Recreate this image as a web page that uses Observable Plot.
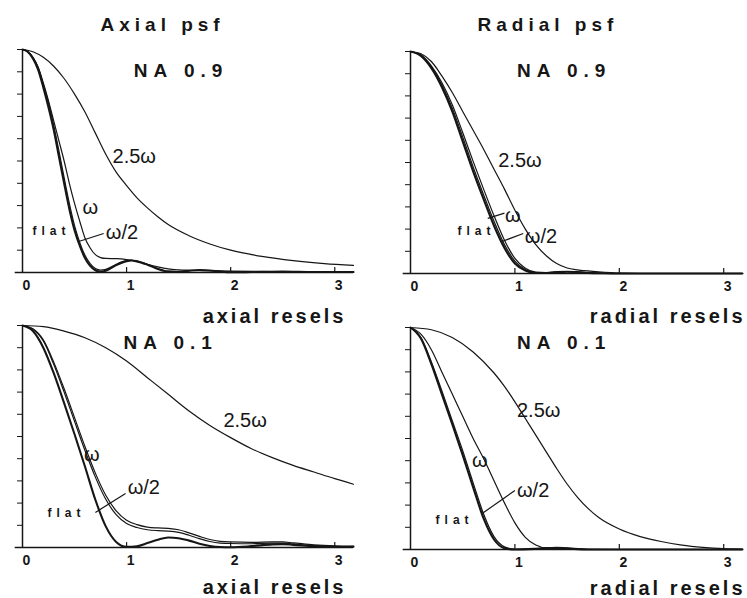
<!DOCTYPE html>
<html><head><meta charset="utf-8">
<script src="https://cdn.jsdelivr.net/npm/d3@7"></script>
<script src="https://cdn.jsdelivr.net/npm/@observablehq/plot@0.6"></script>
<style>
html,body{margin:0;padding:0;background:#fff;}
#wrap{position:relative;width:747px;height:598px;overflow:hidden;background:#fff;}
#wrap > svg{position:absolute;}
g[aria-description="title"] text{letter-spacing:5px;}
g[aria-description="na"] text{letter-spacing:6px;}
g[aria-description="axis label"] text{letter-spacing:3px;}
g[aria-description="flat label"] text{letter-spacing:5px;}
</style></head>
<body><div id="wrap"></div>
<script>
// ---------- data ----------
const xTicks = [0, 1, 2, 3];
const yTicks = [0, 0.1, 0.2, 0.3, 0.4, 0.5, 0.6, 0.7, 0.8, 0.9, 1];
const seriesNames = ["flat", "ω/2", "ω", "2.5ω"];

// Axial psf, NA 0.9
const axial09Flat = [[0,1],[0.05,0.99],[0.1,0.96],[0.15,0.91],[0.2,0.83],[0.25,0.74],[0.3,0.64],[0.35,0.52],[0.4,0.4],[0.45,0.285],[0.5,0.19],[0.55,0.12],[0.6,0.065],[0.65,0.03],[0.7,0.01],[0.75,0.003],[0.8,0.008],[0.9,0.033],[1.0,0.051],[1.05,0.054],[1.1,0.05],[1.2,0.035],[1.3,0.016],[1.4,0.004],[1.5,0.003],[1.6,0.008],[1.7,0.011],[1.8,0.009],[1.9,0.004],[2.0,0.001],[2.2,0.002],[2.5,0.004],[2.8,0.002],[3.18,0.002]];
const axial09Half = [[0,1],[0.05,0.99],[0.1,0.965],[0.15,0.92],[0.2,0.845],[0.25,0.76],[0.3,0.66],[0.35,0.545],[0.4,0.425],[0.45,0.31],[0.5,0.21],[0.55,0.135],[0.6,0.077],[0.65,0.04],[0.7,0.018],[0.75,0.011],[0.8,0.014],[0.9,0.037],[1.0,0.053],[1.05,0.055],[1.1,0.051],[1.2,0.037],[1.3,0.018],[1.4,0.006],[1.5,0.004],[1.6,0.008],[1.7,0.011],[1.8,0.009],[1.9,0.005],[2.0,0.002],[2.5,0.004],[3.18,0.002]];
const axial09W = [[0,1],[0.05,0.99],[0.1,0.965],[0.15,0.92],[0.2,0.85],[0.25,0.77],[0.3,0.68],[0.35,0.59],[0.4,0.5],[0.45,0.4],[0.5,0.31],[0.55,0.23],[0.6,0.155],[0.65,0.11],[0.7,0.08],[0.75,0.067],[0.8,0.063],[0.9,0.062],[1.0,0.058],[1.1,0.05],[1.2,0.037],[1.3,0.025],[1.4,0.016],[1.5,0.012],[1.6,0.01],[1.8,0.008],[2.0,0.006],[2.5,0.004],[3.18,0.003]];
const axial09W25 = [[0,1],[0.1,0.99],[0.2,0.965],[0.3,0.925],[0.4,0.87],[0.5,0.8],[0.6,0.72],[0.7,0.625],[0.8,0.53],[0.9,0.45],[1.0,0.39],[1.1,0.335],[1.2,0.29],[1.3,0.25],[1.4,0.215],[1.6,0.165],[1.8,0.128],[2.0,0.1],[2.3,0.072],[2.6,0.053],[2.9,0.04],[3.18,0.032]];

// Radial psf, NA 0.9
const radial09Flat = [[0,1],[0.1,0.98],[0.2,0.925],[0.3,0.84],[0.4,0.73],[0.5,0.595],[0.6,0.46],[0.7,0.335],[0.8,0.215],[0.9,0.115],[1.0,0.045],[1.1,0.013],[1.2,0.002],[1.3,0.002],[1.4,0.006],[1.5,0.008],[1.6,0.006],[1.7,0.003],[1.85,0.001],[2.0,0],[3.18,0]];
const radial09Half = [[0,1],[0.1,0.982],[0.2,0.93],[0.3,0.85],[0.4,0.745],[0.5,0.615],[0.6,0.48],[0.7,0.355],[0.8,0.235],[0.9,0.13],[1.0,0.056],[1.1,0.018],[1.2,0.004],[1.3,0.003],[1.4,0.006],[1.5,0.008],[1.6,0.006],[1.7,0.003],[2.0,0],[3.18,0]];
const radial09W = [[0,1],[0.1,0.985],[0.2,0.935],[0.3,0.86],[0.4,0.76],[0.5,0.635],[0.6,0.505],[0.7,0.38],[0.8,0.26],[0.9,0.15],[1.0,0.068],[1.1,0.024],[1.2,0.006],[1.3,0.004],[1.4,0.007],[1.5,0.009],[1.6,0.007],[1.7,0.004],[2.0,0],[3.18,0]];
const radial09W25 = [[0,1],[0.1,0.99],[0.2,0.955],[0.3,0.89],[0.4,0.815],[0.5,0.73],[0.6,0.645],[0.7,0.56],[0.8,0.47],[0.9,0.38],[1.0,0.285],[1.1,0.2],[1.2,0.13],[1.3,0.08],[1.4,0.045],[1.5,0.025],[1.6,0.016],[1.8,0.008],[2.0,0.002],[2.2,0],[3.18,0]];

// Axial psf, NA 0.1
const axial01Flat = [[0,1],[0.1,0.975],[0.2,0.9],[0.3,0.785],[0.4,0.65],[0.5,0.51],[0.6,0.365],[0.7,0.215],[0.8,0.095],[0.9,0.025],[1.0,0.003],[1.1,0.006],[1.2,0.02],[1.3,0.035],[1.4,0.045],[1.5,0.042],[1.6,0.031],[1.7,0.017],[1.8,0.007],[1.9,0.002],[2.0,0.001],[2.2,0.006],[2.4,0.014],[2.5,0.015],[2.6,0.012],[2.8,0.005],[3.0,0.002],[3.18,0.004]];
const axial01Half = [[0,1],[0.1,0.983],[0.2,0.93],[0.3,0.825],[0.4,0.7],[0.5,0.568],[0.6,0.437],[0.7,0.317],[0.8,0.217],[0.9,0.148],[1.0,0.108],[1.1,0.09],[1.2,0.08],[1.3,0.076],[1.4,0.074],[1.5,0.068],[1.6,0.055],[1.7,0.04],[1.8,0.027],[1.9,0.02],[2.0,0.018],[2.2,0.017],[2.4,0.02],[2.5,0.02],[2.6,0.016],[2.8,0.009],[3.0,0.005],[3.18,0.004]];
const axial01W = [[0,1],[0.1,0.985],[0.2,0.935],[0.3,0.835],[0.4,0.715],[0.5,0.585],[0.6,0.455],[0.7,0.335],[0.8,0.235],[0.9,0.165],[1.0,0.123],[1.1,0.103],[1.2,0.092],[1.3,0.088],[1.4,0.086],[1.5,0.08],[1.6,0.066],[1.7,0.05],[1.8,0.036],[1.9,0.028],[2.0,0.025],[2.2,0.023],[2.4,0.025],[2.5,0.025],[2.6,0.021],[2.8,0.012],[3.0,0.007],[3.18,0.005]];
const axial01W25 = [[0,1],[0.2,0.995],[0.4,0.975],[0.6,0.945],[0.8,0.9],[1.0,0.84],[1.2,0.765],[1.4,0.69],[1.6,0.615],[1.8,0.55],[2.0,0.495],[2.2,0.445],[2.4,0.405],[2.6,0.37],[2.8,0.34],[3.0,0.31],[3.18,0.285]];

// Radial psf, NA 0.1
const radial01Flat = [[0,1],[0.1,0.95],[0.2,0.835],[0.3,0.7],[0.4,0.565],[0.5,0.425],[0.6,0.28],[0.7,0.14],[0.8,0.045],[0.9,0.006],[1.0,0],[1.2,0.003],[1.35,0.007],[1.5,0.004],[1.7,0],[3.18,0]];
const radial01Half = [[0,1],[0.1,0.955],[0.2,0.845],[0.3,0.715],[0.4,0.58],[0.5,0.445],[0.6,0.3],[0.7,0.16],[0.8,0.058],[0.9,0.012],[1.0,0.001],[1.2,0.004],[1.35,0.008],[1.5,0.005],[1.7,0],[3.18,0]];
const radial01W = [[0,1],[0.1,0.97],[0.2,0.9],[0.3,0.8],[0.4,0.7],[0.5,0.6],[0.6,0.5],[0.7,0.41],[0.8,0.31],[0.9,0.21],[1.0,0.12],[1.1,0.055],[1.2,0.02],[1.3,0.007],[1.4,0.01],[1.5,0.007],[1.7,0.001],[2.0,0],[3.18,0]];
const radial01W25 = [[0,1],[0.2,0.99],[0.4,0.955],[0.6,0.89],[0.8,0.795],[0.9,0.735],[1.0,0.665],[1.1,0.59],[1.2,0.515],[1.3,0.44],[1.4,0.365],[1.5,0.295],[1.6,0.235],[1.7,0.185],[1.8,0.145],[2.0,0.092],[2.2,0.058],[2.4,0.036],[2.6,0.02],[2.8,0.01],[3.0,0.004],[3.18,0.002]];

// annotations (data units)
const axial09Labels = [{text:"2.5ω",x:0.865,y:0.52},{text:"ω",x:0.577,y:0.29},{text:"ω/2",x:0.80,y:0.18}];
const axial09FlatLabel = [{text:"flat",x:0.096,y:0.184}];
const axial09Leaders = [{x1:0.54,y1:0.139,x2:0.78,y2:0.175}];
const radial09Labels = [{text:"2.5ω",x:0.84,y:0.51},{text:"ω",x:0.905,y:0.26},{text:"ω/2",x:1.095,y:0.167}];
const radial09FlatLabel = [{text:"flat",x:0.45,y:0.19}];
const radial09Leaders = [{x1:0.74,y1:0.248,x2:0.9,y2:0.272},{x1:0.876,y1:0.144,x2:1.08,y2:0.18}];
const axial01Labels = [{text:"2.5ω",x:1.93,y:0.57},{text:"ω",x:0.59,y:0.42},{text:"ω/2",x:1.01,y:0.27}];
const axial01FlatLabel = [{text:"flat",x:0.24,y:0.153}];
const axial01Leaders = [{x1:0.70,y1:0.158,x2:0.99,y2:0.243}];
const radial01Labels = [{text:"2.5ω",x:1.02,y:0.626},{text:"ω",x:0.59,y:0.40},{text:"ω/2",x:1.02,y:0.266}];
const radial01FlatLabel = [{text:"flat",x:0.24,y:0.13}];
const radial01Leaders = [{x1:0.686,y1:0.162,x2:1.0,y2:0.266}];

// ---------- drawing ----------
const INK = "#161616";
const FONT = "'Liberation Sans',Arial,Helvetica,sans-serif";

function panel(p) {
  const curves = [p.flat, p.half, p.w, p.w25];
  const widths = [2.1, 1.2, 1.2, 1.2];
  const marks = [
    Plot.ruleY([0], {x1: -0.07, x2: 3.18, stroke: INK, strokeWidth: 1.5}),
    Plot.ruleX([0], {y1: 0, y2: 1, stroke: INK, strokeWidth: 1.5}),
    Plot.axisY(yTicks, {tickSize: 5, tickFormat: () => "", label: null, stroke: INK}),
    Plot.ruleX(xTicks.slice(1), {y1: 0, y2: 0.022, stroke: INK, strokeWidth: 1.2}),
    Plot.axisX(xTicks, {tickSize: 0, tickPadding: 8, fontSize: 14, label: null, dx: 4, tickFormat: d => String(d), fill: INK}),
    ...curves.map((c, i) => Plot.line(c, {x: d => d[0], y: d => d[1], curve: "monotone-x", stroke: INK, strokeWidth: widths[i]})),
    Plot.link(p.leaders, {x1: "x1", y1: "y1", x2: "x2", y2: "y2", stroke: INK, strokeWidth: 1.2}),
    Plot.text(p.labels, {x: "x", y: "y", text: "text", textAnchor: "start", fontSize: 20, fontWeight: "normal", fill: INK}),
    Plot.text(p.flatLabel, {x: "x", y: "y", text: "text", textAnchor: "start", fontSize: 12, fill: INK, ariaDescription: "flat label"}),
    Plot.text([p.na], {x: p.naX, y: p.naY, text: d => d, textAnchor: "start", fontSize: 19, fill: INK, ariaDescription: "na"}),
    Plot.text([p.axisLabel], {frameAnchor: "bottom-right", text: d => d, textAnchor: "end", lineAnchor: "bottom", dx: p.alDx, dy: p.alDy, fontSize: 20, fill: INK, ariaDescription: "axis label"})
  ];
  if (p.title) marks.push(Plot.text([p.title], {frameAnchor: "top-left", text: d => d, textAnchor: "start", lineAnchor: "bottom", dx: p.tDx, dy: p.tDy, fontSize: 19, fill: INK, ariaDescription: "title"}));
  const svg = Plot.plot({
    width: p.width, height: p.height,
    marginLeft: p.ml, marginRight: p.mr, marginTop: p.mt, marginBottom: p.mb,
    x: {domain: [0, 3.18], axis: null},
    y: {domain: [0, 1], axis: null},
    style: `background:none;overflow:visible;font-family:${FONT};font-weight:bold;color:${INK};`,
    marks
  });
  svg.style.left = p.left + "px";
  svg.style.top = p.top + "px";
  document.getElementById("wrap").appendChild(svg);
}

panel({left: 0, top: 0, width: 374, height: 300, ml: 22, mr: 21, mt: 49, mb: 28,
  flat: axial09Flat, half: axial09Half, w: axial09W, w25: axial09W25,
  labels: axial09Labels, flatLabel: axial09FlatLabel, leaders: axial09Leaders,
  na: "NA 0.9", naX: 1.07, naY: 0.906,
  title: "Axial psf", tDx: 78, tDy: -19,
  axisLabel: "axial resels", alDx: -7, alDy: 50});
panel({left: 374, top: 0, width: 373, height: 300, ml: 36, mr: 5, mt: 51, mb: 27,
  flat: radial09Flat, half: radial09Half, w: radial09W, w25: radial09W25,
  labels: radial09Labels, flatLabel: radial09FlatLabel, leaders: radial09Leaders,
  na: "NA 0.9", naX: 1.02, naY: 0.914,
  title: "Radial psf", tDx: 67, tDy: -21,
  axisLabel: "radial resels", alDx: 3, alDy: 49});
panel({left: 0, top: 300, width: 374, height: 298, ml: 22, mr: 21, mt: 25, mb: 51,
  flat: axial01Flat, half: axial01Half, w: axial01W, w25: axial01W25,
  labels: axial01Labels, flatLabel: axial01FlatLabel, leaders: axial01Leaders,
  na: "NA 0.1", naX: 0.97, naY: 0.92,
  axisLabel: "axial resels", alDx: -7, alDy: 46});
panel({left: 374, top: 300, width: 373, height: 298, ml: 36, mr: 5, mt: 27, mb: 49,
  flat: radial01Flat, half: radial01Half, w: radial01W, w25: radial01W25,
  labels: radial01Labels, flatLabel: radial01FlatLabel, leaders: radial01Leaders,
  na: "NA 0.1", naX: 1.02, naY: 0.93,
  axisLabel: "radial resels", alDx: 3, alDy: 45});
</script></body></html>
